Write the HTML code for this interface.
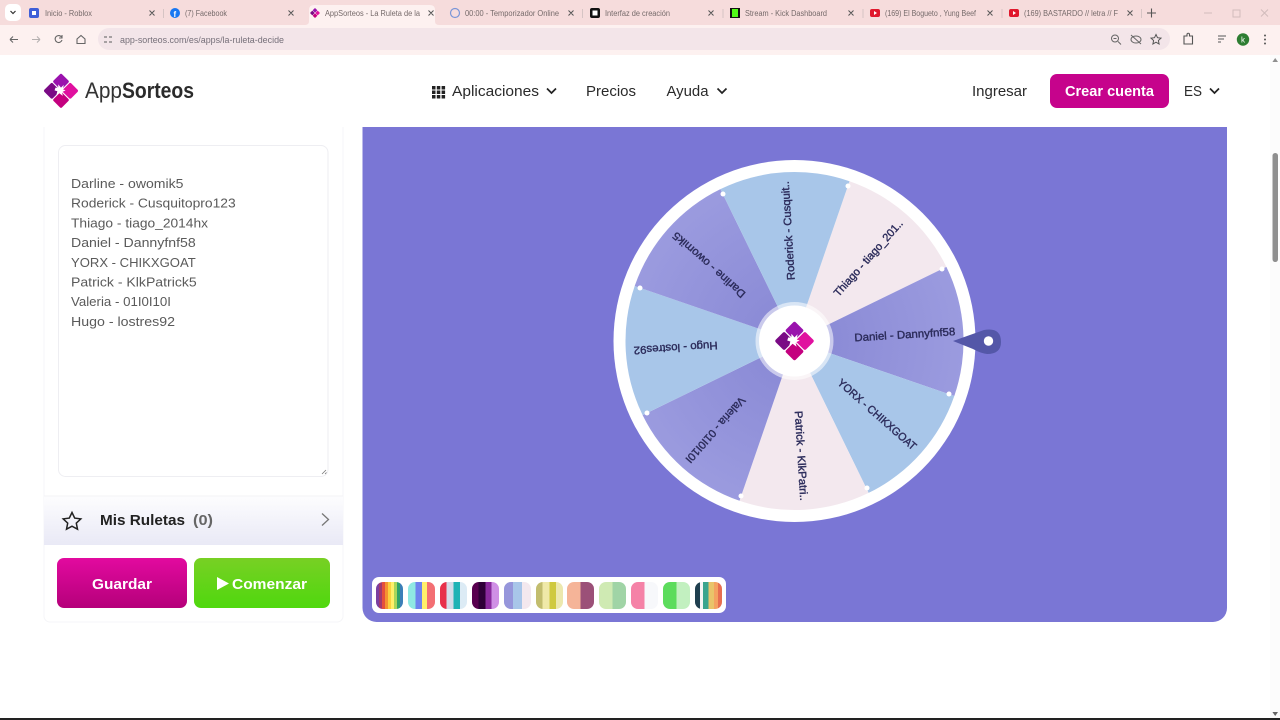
<!DOCTYPE html>
<html lang="es"><head><meta charset="utf-8"><title>AppSorteos</title>
<style>
html,body{margin:0;padding:0;width:1280px;height:720px;overflow:hidden;background:#fff}
svg{position:absolute;left:0;top:0}
text{font-family:"Liberation Sans",sans-serif}
.tab{font-size:8px;fill:#756a6a}
.x{stroke:#555;stroke-width:1;fill:none}
.nav{font-size:15px;fill:#2a2a2a}
.l{font-size:13px;fill:#5a5a5a}
.w{font-size:11px;fill:#2d2d5c;stroke:#2d2d5c;stroke-width:.4;text-anchor:end}
.sw{position:absolute;top:582px;width:27px;height:27px;border-radius:7px}
</style></head><body>
<svg width="1280" height="720" viewBox="0 0 1280 720">
<defs>
<linearGradient id="g1" x1="0" y1="0" x2="0" y2="1"><stop offset="0" stop-color="#e20a9f"/><stop offset="1" stop-color="#b5007a"/></linearGradient>
<linearGradient id="g2" x1="0" y1="0" x2="0" y2="1"><stop offset="0" stop-color="#78d024"/><stop offset="1" stop-color="#4fd80e"/></linearGradient>
<linearGradient id="g3" x1="0" y1="0" x2="0" y2="1"><stop offset="0" stop-color="#fdfdfe"/><stop offset="1" stop-color="#e9e9f6"/></linearGradient>
<radialGradient id="pu" gradientUnits="userSpaceOnUse" cx="794.5" cy="341" r="170"><stop offset=".2" stop-color="#8b8bd6"/><stop offset="1" stop-color="#9b9bdf"/></radialGradient>
</defs>
<!-- browser chrome -->
<rect width="1280" height="25" fill="#f6dcdc"/>
<rect y="25" width="1280" height="30" fill="#fdf1f0"/>
<rect x="5" y="4" width="16" height="17" rx="5" fill="#fff"/>
<path d="M10.500 11l2.500 2.500 2.500-2.500" fill="none" stroke="#333" stroke-width="1.200"/>
<path d="M305 25q4 0 4-4v-11q0-5 5-5h116q5 0 5 5v11q0 4 4 4z" fill="#fdf1f0"/>
<rect x="29" y="8" width="10" height="10" rx="2" fill="#3f5fd8"/><rect x="32" y="11" width="4" height="4" fill="#fff"/>
<circle cx="175" cy="13" r="5" fill="#1877f2"/><text x="173.500" y="17" font-size="8" font-weight="bold" fill="#fff">f</text>
<circle cx="455" cy="13" r="4.500" fill="none" stroke="#7b96d8" stroke-width="1.200"/>
<rect x="590" y="8" width="10" height="10" rx="2" fill="#111"/><rect x="592.500" y="10.500" width="5" height="5" fill="#fff"/>
<rect x="730" y="8" width="10" height="10" fill="#111"/><rect x="732" y="9" width="6" height="8" fill="#53fc18"/>
<rect x="870" y="9" width="10" height="8" rx="2" fill="#e0182d"/><path d="M874 11l3 2-3 2z" fill="#fff"/>
<rect x="1009" y="9" width="10" height="8" rx="2" fill="#e0182d"/><path d="M1013 11l3 2-3 2z" fill="#fff"/>
<g transform="translate(315 13) scale(.28)"><rect x="-6" y="-15.500" width="12" height="12" rx="1.500" fill="#9a12ad" transform="rotate(45 0 -9.500)"/><rect x="3.500" y="-6" width="12" height="12" rx="1.500" fill="#e0109f" transform="rotate(45 9.500 0)"/><rect x="-6" y="3.500" width="12" height="12" rx="1.500" fill="#c4007f" transform="rotate(45 0 9.500)"/><rect x="-15.500" y="-6" width="12" height="12" rx="1.500" fill="#7a0a85" transform="rotate(45 -9.500 0)"/></g>
<text class="tab" x="45" y="16" textLength="47" lengthAdjust="spacingAndGlyphs">Inicio - Roblox</text>
<text class="tab" x="185" y="16" textLength="42" lengthAdjust="spacingAndGlyphs">(7) Facebook</text>
<text class="tab" x="325" y="16" textLength="95" lengthAdjust="spacingAndGlyphs">AppSorteos - La Ruleta de la</text>
<text class="tab" x="465" y="16" textLength="94" lengthAdjust="spacingAndGlyphs">00:00 - Temporizador Online</text>
<text class="tab" x="605" y="16" textLength="65" lengthAdjust="spacingAndGlyphs">Interfaz de creación</text>
<text class="tab" x="745" y="16" textLength="82" lengthAdjust="spacingAndGlyphs">Stream - Kick Dashboard</text>
<text class="tab" x="885" y="16" textLength="91" lengthAdjust="spacingAndGlyphs">(169) El Bogueto , Yung Beef</text>
<text class="tab" x="1024" y="16" textLength="94" lengthAdjust="spacingAndGlyphs">(169) BASTARDO // letra // F</text>
<path class="x" d="M149.500 10.500l5 5m0-5l-5 5M288.500 10.500l5 5m0-5l-5 5M428.500 10.500l5 5m0-5l-5 5M568.500 10.500l5 5m0-5l-5 5M708.500 10.500l5 5m0-5l-5 5M848.500 10.500l5 5m0-5l-5 5M987.500 10.500l5 5m0-5l-5 5M1127.500 10.500l5 5m0-5l-5 5"/>
<path d="M163.500 9v9M582.500 9v9M723 9v9M863 9v9M1002 9v9M1141.500 9v9" stroke="#d6c4c4" stroke-width="1"/>
<path d="M1147 13h9M1151.500 8.500v9" stroke="#555" stroke-width="1.100"/>
<path d="M1204 13h8M1233 10h7v7h-7zM1261 9.500l7 7m0-7l-7 7" fill="none" stroke="#d2bcbc" stroke-width="1"/>
<path d="M10 39.500h8M10 39.500l3-3M10 39.500l3 3" fill="none" stroke="#666" stroke-width="1.100"/>
<path d="M40 39.500h-8M40 39.500l-3-3M40 39.500l-3 3" fill="none" stroke="#b5b0b0" stroke-width="1.100"/>
<path d="M61.500 37a3.500 3.500 0 1 0 .5 3M62 35v3h-3" fill="none" stroke="#666" stroke-width="1.100"/>
<path d="M77 39l4-3.500 4 3.500v4.500h-8z" fill="none" stroke="#666" stroke-width="1.100"/>
<rect x="98" y="28" width="1072" height="22" rx="11" fill="#f3e5e9"/>
<path d="M104 37h8M104 42h8" stroke="#777" stroke-width="1.300" stroke-dasharray="3 2"/>
<text x="120" y="43" font-size="9" fill="#76707a" textLength="164" lengthAdjust="spacingAndGlyphs">app-sorteos.com/es/apps/la-ruleta-decide</text>
<circle cx="1115" cy="38.500" r="3.500" fill="none" stroke="#666" stroke-width="1"/><path d="M1118 41.500l3 3M1113.500 38.500h3" stroke="#666" stroke-width="1"/>
<ellipse cx="1136" cy="39.500" rx="5" ry="3.500" fill="none" stroke="#666" stroke-width="1"/><path d="M1131 35l10 9" stroke="#666" stroke-width="1"/>
<path d="M1156 34.500l1.500 3.200 3.500.4-2.600 2.400.7 3.500-3.100-1.800-3.100 1.800.7-3.500-2.600-2.400 3.500-.4z" fill="none" stroke="#555" stroke-width="1"/>
<path d="M1184 36h3v-1.500a1.200 1.200 0 0 1 2.500 0V36h3v8h-8.500z" fill="none" stroke="#555" stroke-width="1.100"/>
<path d="M1218 36h8M1218 39h6M1218 42h3" stroke="#777" stroke-width="1.200"/>
<circle cx="1243" cy="39.500" r="6.200" fill="#2e7d32"/><text x="1243" y="42.500" font-size="8" fill="#fff" text-anchor="middle">k</text>
<circle cx="1265" cy="35.500" r="1" fill="#555"/><circle cx="1265" cy="39.500" r="1" fill="#555"/><circle cx="1265" cy="43.500" r="1" fill="#555"/>

<!-- scrollbar -->
<rect x="1270" y="55" width="10" height="663" fill="#fcfcfc"/>
<rect x="1272.500" y="153" width="5.500" height="109" rx="2.700" fill="#8f8f8f"/>
<path d="M1275.200 58l2.800 4h-5.600z" fill="#8f8f8f"/><path d="M1275.200 716l-2.800-4h5.600z" fill="#666"/>
<rect y="718" width="1280" height="2" fill="#222"/>

<!-- logo -->
<g transform="translate(61 90.800) scale(.92)"><rect x="-6.500" y="-16.500" width="13" height="13" rx="1.800" fill="#9a12ad" transform="rotate(45 0 -10)"/><rect x="3.500" y="-6.500" width="13" height="13" rx="1.800" fill="#e0109f" transform="rotate(45 10 0)"/><rect x="-6.500" y="3.500" width="13" height="13" rx="1.800" fill="#c4007f" transform="rotate(45 0 10)"/><rect x="-16.500" y="-6.500" width="13" height="13" rx="1.800" fill="#7a0a85" transform="rotate(45 -10 0)"/><path d="M-6-3.500l3 .5 0-4 3 3.500 3-3-1 5 3 1-4 2 1 4-4-3-3 2 1-4-3-1z" fill="#fff"/></g>
<text x="85" y="98" font-size="22" fill="#333" textLength="37" lengthAdjust="spacingAndGlyphs">App</text>
<text x="122" y="98" font-size="22" font-weight="bold" fill="#2b2b2b" textLength="72" lengthAdjust="spacingAndGlyphs">Sorteos</text>

<!-- nav -->
<g fill="#222"><rect x="432" y="86" width="3.500" height="3.500"/><rect x="436.800" y="86" width="3.500" height="3.500"/><rect x="441.600" y="86" width="3.500" height="3.500"/><rect x="432" y="90.500" width="3.500" height="3.500"/><rect x="436.800" y="90.500" width="3.500" height="3.500"/><rect x="441.600" y="90.500" width="3.500" height="3.500"/><rect x="432" y="95" width="3.500" height="3.500"/><rect x="436.800" y="95" width="3.500" height="3.500"/><rect x="441.600" y="95" width="3.500" height="3.500"/></g>
<text class="nav" x="452" y="96" textLength="87" lengthAdjust="spacingAndGlyphs">Aplicaciones</text>
<path d="M547 88.500l4.500 4.500 4.500-4.500M717.500 88.500l4.500 4.500 4.500-4.500M1210 88.500l4.500 4.500 4.500-4.500" fill="none" stroke="#222" stroke-width="1.700"/>
<text class="nav" x="586" y="96" textLength="50" lengthAdjust="spacingAndGlyphs">Precios</text>
<text class="nav" x="666.500" y="96" textLength="42" lengthAdjust="spacingAndGlyphs">Ayuda</text>
<text class="nav" x="972" y="96" textLength="55" lengthAdjust="spacingAndGlyphs">Ingresar</text>
<rect x="1050" y="74" width="119" height="34" rx="7" fill="#c6038c"/>
<text x="1065" y="96" font-size="14.500" font-weight="bold" fill="#fff" textLength="89" lengthAdjust="spacingAndGlyphs">Crear cuenta</text>
<text class="nav" x="1184" y="96" textLength="18" lengthAdjust="spacingAndGlyphs">ES</text>

<!-- left panel -->
<path d="M44 127V616a6 6 0 0 0 6 6H337a6 6 0 0 0 6-6V127" fill="#fff" stroke="#f5f5f8"/>
<rect x="58.500" y="145.500" width="269.500" height="331" rx="7" fill="#fff" stroke="#eeeef2"/>
<path d="M322 474l4-4M325 474l1.500-1.500" stroke="#777" stroke-width=".8"/>
<text class="l" x="71" y="188" textLength="112.500" lengthAdjust="spacingAndGlyphs">Darline - owomik5</text>
<text class="l" x="71" y="207.700" textLength="164.700" lengthAdjust="spacingAndGlyphs">Roderick - Cusquitopro123</text>
<text class="l" x="71" y="227.400" textLength="137" lengthAdjust="spacingAndGlyphs">Thiago - tiago_2014hx</text>
<text class="l" x="71" y="247.100" textLength="124.700" lengthAdjust="spacingAndGlyphs">Daniel - Dannyfnf58</text>
<text class="l" x="71" y="266.800" textLength="124.700" lengthAdjust="spacingAndGlyphs">YORX - CHIKXGOAT</text>
<text class="l" x="71" y="286.500" textLength="125.700" lengthAdjust="spacingAndGlyphs">Patrick - KlkPatrick5</text>
<text class="l" x="71" y="306.200" textLength="100" lengthAdjust="spacingAndGlyphs">Valeria - 01I0I10I</text>
<text class="l" x="71" y="325.900" textLength="104" lengthAdjust="spacingAndGlyphs">Hugo - lostres92</text>
<rect x="44" y="496" width="299" height="49" fill="url(#g3)"/>
<path d="M44 496h299" stroke="#f3f3f6"/>
<path d="M72 512.500l2.700 5.600 6.100.8-4.500 4.200 1.200 6.100-5.500-3-5.500 3 1.200-6.100-4.500-4.200 6.100-.8z" fill="none" stroke="#222" stroke-width="1.500"/>
<text x="100" y="525" font-size="14.500" font-weight="bold" fill="#222" textLength="85" lengthAdjust="spacingAndGlyphs">Mis Ruletas</text>
<text x="193" y="525" font-size="14.500" font-weight="bold" fill="#666" textLength="20" lengthAdjust="spacingAndGlyphs">(0)</text>
<path d="M322 513.500l6.500 6-6.500 6" fill="none" stroke="#777" stroke-width="1.300"/>
<rect x="57" y="558" width="130" height="50" rx="7" fill="url(#g1)"/>
<text x="92" y="589" font-size="15" font-weight="bold" fill="#fff" textLength="60" lengthAdjust="spacingAndGlyphs">Guardar</text>
<rect x="194" y="558" width="136" height="50" rx="7" fill="url(#g2)"/>
<path d="M217 577l12 6.500-12 6.500z" fill="#fff"/>
<text x="232" y="589" font-size="15" font-weight="bold" fill="#fff" textLength="75" lengthAdjust="spacingAndGlyphs">Comenzar</text>

<!-- main panel -->
<path d="M362.500 127H1227V608a14 14 0 0 1-14 14H376.500a14 14 0 0 1-14-14z" fill="#7a76d5"/>
<circle cx="794.500" cy="341" r="181" fill="#fff"/>
<g>
<path d="M794.500 341L849.500 181.200A169 169 0 0 1 946.400 266.900z" fill="#f3e8ee"/>
<path d="M794.500 341L946.400 266.900A169 169 0 0 1 954.300 396z" fill="url(#pu)"/>
<path d="M794.500 341L954.300 396A169 169 0 0 1 868.600 492.900z" fill="#a8c6e9"/>
<path d="M794.500 341L868.600 492.900A169 169 0 0 1 739.500 500.800z" fill="#f3e8ee"/>
<path d="M794.500 341L739.500 500.800A169 169 0 0 1 642.600 415.100z" fill="url(#pu)"/>
<path d="M794.500 341L642.600 415.100A169 169 0 0 1 634.700 286z" fill="#a8c6e9"/>
<path d="M794.500 341L634.700 286A169 169 0 0 1 720.400 189.100z" fill="url(#pu)"/>
<path d="M794.500 341L720.400 189.100A169 169 0 0 1 849.500 181.200z" fill="#a8c6e9"/>
</g>
<g fill="#fff"><circle cx="848" cy="186" r="2.500"/><circle cx="942" cy="269" r="2.500"/><circle cx="949" cy="394" r="2.500"/><circle cx="867" cy="488" r="2.500"/><circle cx="741" cy="496" r="2.500"/><circle cx="647" cy="413" r="2.500"/><circle cx="640" cy="288" r="2.500"/><circle cx="723" cy="194" r="2.500"/></g>
<g transform="translate(794.500 341)">
<text class="w" transform="rotate(-48.500)" x="160" y="4" textLength="98" lengthAdjust="spacingAndGlyphs">Thiago - tiago_201..</text>
<text class="w" transform="rotate(-3.500)" x="161" y="4" textLength="101" lengthAdjust="spacingAndGlyphs">Daniel - Dannyfnf58</text>
<text class="w" transform="rotate(41.500)" x="161" y="4" textLength="101" lengthAdjust="spacingAndGlyphs">YORX - CHIKXGOAT</text>
<text class="w" transform="rotate(86.500)" x="160" y="4" textLength="90" lengthAdjust="spacingAndGlyphs">Patrick - KlkPatri..</text>
<text class="w" transform="rotate(131.500)" x="161" y="4" textLength="84" lengthAdjust="spacingAndGlyphs">Valeria - 01I0I10I</text>
<text class="w" transform="rotate(176.500)" x="161" y="4" textLength="84" lengthAdjust="spacingAndGlyphs">Hugo - lostres92</text>
<text class="w" transform="rotate(221.500)" x="161" y="4" textLength="93" lengthAdjust="spacingAndGlyphs">Darline - owomik5</text>
<text class="w" transform="rotate(266.500)" x="160" y="4" textLength="99" lengthAdjust="spacingAndGlyphs">Roderick - Cusquit..</text>
</g>
<circle cx="794.500" cy="341" r="39" fill="#fff" opacity=".55"/>
<circle cx="794.500" cy="341" r="35.500" fill="#fff"/>
<g transform="translate(794.500 341) scale(1.040)"><rect x="-6.500" y="-16.500" width="13" height="13" rx="1.800" fill="#9a12ad" transform="rotate(45 0 -10)"/><rect x="3.500" y="-6.500" width="13" height="13" rx="1.800" fill="#e0109f" transform="rotate(45 10 0)"/><rect x="-6.500" y="3.500" width="13" height="13" rx="1.800" fill="#c4007f" transform="rotate(45 0 10)"/><rect x="-16.500" y="-6.500" width="13" height="13" rx="1.800" fill="#7a0a85" transform="rotate(45 -10 0)"/><path d="M-6-3.500l3 .5 0-4 3 3.500 3-3-1 5 3 1-4 2 1 4-4-3-3 2 1-4-3-1z" fill="#fff"/></g>
<!-- pointer -->
<path d="M953 341L984 330Q1001 327 1001 342Q1001 354 987 354Q980 353 973 349Z" fill="#5457a8"/>
<circle cx="988.500" cy="341" r="4.700" fill="#fff"/>
<!-- palette bar -->
<rect x="372" y="577" width="354" height="36" rx="7" fill="#fff"/>
</svg>
<div class="sw" style="left:376px;background:linear-gradient(90deg,#7b3fa0 0 11%,#a23a6e 11% 22%,#e5503c 22% 33%,#f59231 33% 44%,#fbd13f 44% 55%,#fff06a 55% 66%,#a9d65a 66% 77%,#2fa36b 77% 88%,#3b7fb8 88%)"></div>
<div class="sw" style="left:408px;background:linear-gradient(90deg,#8fe9e3 0 28%,#6e83ee 28% 52%,#fff06a 52% 70%,#f36f73 70%)"></div>
<div class="sw" style="left:440px;background:linear-gradient(90deg,#e8304a 0 25%,#d4dce9 25% 50%,#1fb3b5 50% 75%,#dcebf5 75%)"></div>
<div class="sw" style="left:472px;background:linear-gradient(90deg,#58004f 0 25%,#2e0037 25% 50%,#8a2a9e 50% 72%,#cf90e5 72%)"></div>
<div class="sw" style="left:504px;background:linear-gradient(90deg,#9696db 0 33%,#a8c6e9 33% 66%,#f3e8ee 66%)"></div>
<div class="sw" style="left:536px;background:linear-gradient(90deg,#c2bd6e 0 25%,#efe9a8 25% 50%,#cfc93f 50% 75%,#ece8ae 75%)"></div>
<div class="sw" style="left:567px;background:linear-gradient(90deg,#f5b498 0 50%,#9b5078 50%)"></div>
<div class="sw" style="left:599px;background:linear-gradient(90deg,#cfeab3 0 50%,#a0d4a6 50%)"></div>
<div class="sw" style="left:631px;background:linear-gradient(90deg,#f582a7 0 50%,#f7f8fb 50%)"></div>
<div class="sw" style="left:663px;background:linear-gradient(90deg,#5cdc5c 0 50%,#c2f0c0 50%)"></div>
<div class="sw" style="left:695px;background:linear-gradient(90deg,#1f3f4f 0 18%,#f5f5f5 18% 30%,#3aa58e 30% 50%,#e9c46a 50% 70%,#f4a261 70% 85%,#e76f51 85%)"></div>
</body></html>
